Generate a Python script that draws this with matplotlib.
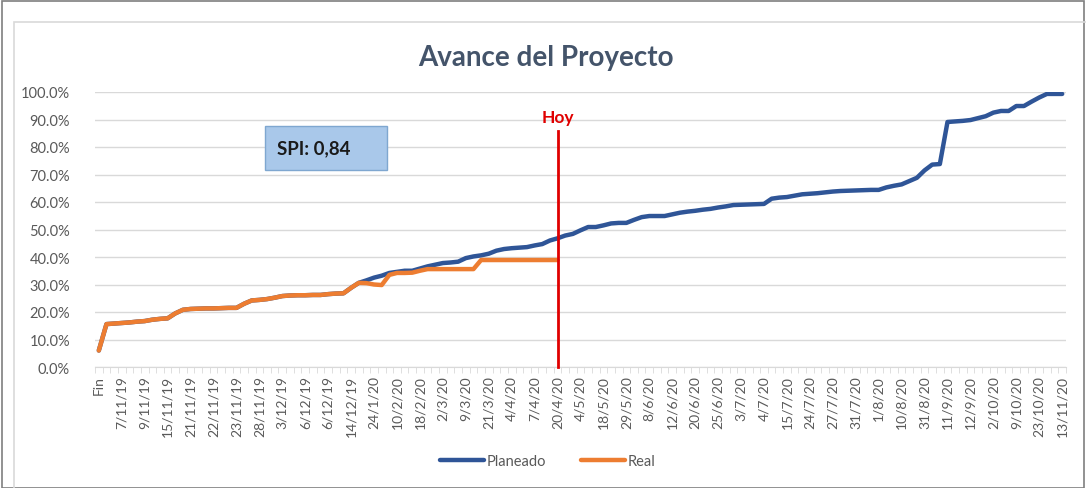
import matplotlib
matplotlib.use("Agg")
import matplotlib.pyplot as plt
from matplotlib.patches import Rectangle
from matplotlib.ticker import PercentFormatter, MultipleLocator

plt.rcParams['font.family'] = ['Lato', 'DejaVu Sans']

# labels shown on the date axis (every third point)
tick_labels = [
    "Fin", "7/11/19", "9/11/19", "15/11/19", "21/11/19", "22/11/19", "23/11/19",
    "28/11/19", "3/12/19", "6/12/19", "6/12/19", "14/12/19", "24/1/20", "10/2/20",
    "18/2/20", "2/3/20", "9/3/20", "21/3/20", "4/4/20", "7/4/20", "20/4/20",
    "4/5/20", "18/5/20", "29/5/20", "8/6/20", "12/6/20", "20/6/20", "25/6/20",
    "3/7/20", "4/7/20", "15/7/20", "24/7/20", "27/7/20", "31/7/20", "1/8/20",
    "10/8/20", "31/8/20", "11/9/20", "12/9/20", "2/10/20", "9/10/20", "23/10/20",
    "13/11/20",
]
label_step = 3

# cumulative progress, percent
real = [
    6.0, 15.6, 15.8, 16.0, 16.2, 16.5, 16.7, 17.2, 17.5, 17.7,
    19.5, 20.8, 21.1, 21.2, 21.3, 21.3, 21.4, 21.5, 21.5, 23.0,
    24.2, 24.4, 24.7, 25.2, 25.8, 26.0, 26.1, 26.1, 26.2, 26.2,
    26.5, 26.7, 26.8, 28.8, 30.6, 30.5, 30.0, 29.8, 33.5, 34.2,
    34.2, 34.3, 35.0, 35.6, 35.6, 35.6, 35.6, 35.6, 35.6, 35.6,
    38.9, 38.9, 38.9, 38.9, 38.9, 38.9, 38.9, 38.9, 38.9, 38.9,
    38.9,
]
planeado = real[:35] + [
    31.5, 32.5, 33.2, 34.2, 34.6, 35.0, 35.0, 35.8, 36.6, 37.2,
    37.8, 38.0, 38.3, 39.6, 40.2, 40.6, 41.2, 42.3, 42.9, 43.2,
    43.4, 43.6, 44.2, 44.7, 46.0, 46.8, 47.8, 48.4, 49.7, 50.9,
    50.9, 51.5, 52.2, 52.4, 52.4, 53.5, 54.5, 54.9, 54.9, 54.9,
    55.5, 56.1, 56.5, 56.8, 57.2, 57.5, 58.0, 58.4, 58.9, 59.0,
    59.1, 59.2, 59.3, 61.2, 61.6, 61.8, 62.3, 62.8, 63.0, 63.2,
    63.5, 63.8, 64.0, 64.1, 64.2, 64.3, 64.4, 64.4, 65.3, 65.9,
    66.4, 67.6, 68.8, 71.5, 73.6, 73.8, 89.1, 89.3, 89.5, 89.8,
    90.5, 91.2, 92.5, 93.1, 93.1, 94.9, 94.9, 96.5, 98.0, 99.3,
    99.3, 99.3,
]
hoy_label = "20/4/20"
spi = "SPI: 0,84"

n = len(planeado)
hoy_idx = tick_labels.index(hoy_label) * label_step

BLUE = "#2F5597"
ORANGE = "#ED7D31"
GRID = "#D9D9D9"
TXT = "#595959"

fig = plt.figure(figsize=(10.86, 4.89), dpi=100)
W, H = 1086, 489

# outer frame and chart-area border
fig.patches.append(Rectangle((2 / W, 0), 1 - 4 / W, 1 - 2 / H, transform=fig.transFigure,
                             fill=False, ec="#7F7F7F", lw=1.2))
fig.patches.append(Rectangle((14 / W, -0.1), 1.1, 1 - 23 / H + 0.1, transform=fig.transFigure,
                             fill=False, ec=GRID, lw=1.2))

ax = fig.add_axes([95 / W, 1 - 368 / H, (1066 - 95) / W, (368 - 93) / H])

ax.plot(range(n), planeado, color=BLUE, lw=3.2, solid_capstyle="round",
        solid_joinstyle="round", label="Planeado", zorder=3)
ax.plot(range(len(real)), real, color=ORANGE, lw=3.2, solid_capstyle="round",
        solid_joinstyle="round", label="Real", zorder=4)

ax.set_xlim(-0.5, n - 0.5)
ax.set_ylim(0, 100)
ax.yaxis.set_major_locator(MultipleLocator(10))
ax.yaxis.set_major_formatter(PercentFormatter(decimals=1))
ax.grid(axis="y", color=GRID, lw=1)
ax.set_axisbelow(True)

ax.set_xticks(range(0, n, label_step))
ax.set_xticklabels(tick_labels, rotation=90, fontsize=10, color=TXT)
ax.set_xticks([i - 0.5 for i in range(n + 1)], minor=True)
ax.tick_params(axis="x", which="major", length=0, pad=6)
ax.tick_params(axis="x", which="minor", length=4, color=GRID)
ax.tick_params(axis="y", length=0, labelsize=10.5, labelcolor=TXT, pad=18)

for s in ["top", "right", "left"]:
    ax.spines[s].set_visible(False)
ax.spines["bottom"].set_color(GRID)

# "today" marker
ax.plot([hoy_idx, hoy_idx], [0, 86], color="#E00000", lw=2, zorder=5, clip_on=False)
ax.text(hoy_idx, 88, "Hoy", color="#E00000", fontsize=12.5, fontweight="bold",
        ha="center", va="bottom")

# SPI box
ax.add_patch(Rectangle((21.7, 71.5), 16, 16.3, fc="#A9C8EA", ec="#7FA7D0", lw=1,
                       zorder=6))
ax.text(23.3, 79.6, spi, fontsize=13.5, fontweight="bold", color="#1A1A1A",
        va="center", ha="left", zorder=7)

fig.text(546 / W, 1 - 58 / H, "Avance del Proyecto", fontsize=20, fontweight="bold",
         color="#44546A", ha="center", va="center")

fig.legend(loc="center", bbox_to_anchor=(548 / W, 1 - 462 / H), ncol=2, frameon=False,
           fontsize=10.5, labelcolor=TXT, handlelength=3.0, handletextpad=0.2,
           columnspacing=2.4)

fig.savefig("out.png", dpi=100)
